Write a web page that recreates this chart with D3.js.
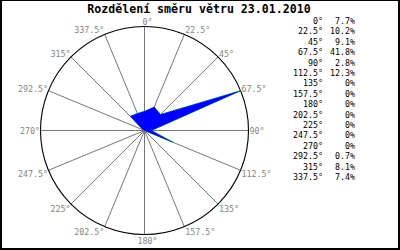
<!DOCTYPE html>
<html><head><meta charset="utf-8">
<script src="https://cdn.jsdelivr.net/npm/d3@7"></script>
<style>
html,body{margin:0;padding:0;background:#fff;}
svg{display:block;}
</style></head>
<body>
<svg id="c" width="400" height="250"></svg>
<script>
const title = "Rozdělení směru větru 23.01.2010";
const directions = [0, 22.5, 45, 67.5, 90, 112.5, 135, 157.5, 180, 202.5, 225, 247.5, 270, 292.5, 315, 337.5];
const percents = [7.7, 10.2, 9.1, 41.8, 2.8, 12.3, 0, 0, 0, 0, 0, 0, 0, 0.7, 8.1, 7.4];

const svg = d3.select("#c");
const W = 400, H = 250;
const cx = 144.5, cy = 130.5, R = 104;
const mono = "'DejaVu Sans Mono', monospace";

svg.append("rect").attr("x",0).attr("y",0).attr("width",W).attr("height",H).attr("fill","#fff");

const rScale = d3.scaleLinear().domain([0, d3.max(percents)]).range([0, R]);
const rad = d => d * Math.PI / 180;
const fmtDeg = d => d3.format("")(d) + "°";
const fmtPct = v => v === 0 ? "0%" : v.toFixed(1) + "%";

const g = svg.append("g").attr("transform", `translate(${cx},${cy})`);

// spokes
g.selectAll("line.spoke").data(directions).join("line")
  .attr("class","spoke")
  .attr("x1",0).attr("y1",0)
  .attr("x2", d => R*Math.sin(rad(d)))
  .attr("y2", d => -R*Math.cos(rad(d)))
  .attr("stroke","#777").attr("stroke-width",1);

// circle
g.append("circle").attr("r",R).attr("fill","none").attr("stroke","#000").attr("stroke-width",1.1);

// data polygon
const radial = d3.lineRadial()
  .angle((v,i) => rad(directions[i]))
  .radius(v => rScale(v))
  .curve(d3.curveLinearClosed);
g.append("path").attr("d", radial(percents))
  .attr("fill","none").attr("stroke","#00e000").attr("stroke-width",0.9);
g.append("path").attr("d", radial(percents))
  .attr("fill","#0000ff").attr("stroke","#0000ff").attr("stroke-width",0.3);

// angle labels
g.selectAll("text.lab").data(directions).join("text")
  .attr("class","lab")
  .attr("font-family",mono).attr("font-size","8.3px").attr("fill","#858585")
  .attr("text-anchor", d => { const s=Math.sin(rad(d)); return s>0.01?"start":(s<-0.01?"end":"middle"); })
  .attr("x", d => { const s=Math.sin(rad(d)); const ex=R*Math.sin(rad(d)); return s>0.01? ex+1 : (s<-0.01? ex-0.5 : ex+3); })
  .attr("y", d => { const c=Math.cos(rad(d)); const ey=-R*c; const dy = c>0 ? -4.5*c : 6*Math.sqrt(-c); return ey+dy+3; })
  .text(fmtDeg);

// title
svg.append("text").attr("x",199).attr("y",13)
  .attr("text-anchor","middle").attr("font-family",mono).attr("font-weight","bold")
  .attr("font-size","11.6px").attr("fill","#000").text(title);

// legend
const ly = d3.scaleLinear().domain([0, directions.length-1]).range([21, 177]);
const leg = svg.append("g").attr("font-family",mono).attr("font-size","8.3px").attr("fill","#000");
leg.selectAll("text.ang").data(directions).join("text").attr("class","ang")
  .attr("x",323).attr("y",(d,i)=>ly(i)+3).attr("text-anchor","end").text(fmtDeg);
leg.selectAll("text.pct").data(percents).join("text").attr("class","pct")
  .attr("x",355).attr("y",(d,i)=>ly(i)+3).attr("text-anchor","end").text(fmtPct);

// frame
svg.append("rect").attr("x",0.5).attr("y",0.5).attr("width",W-1).attr("height",H-1)
  .attr("fill","none").attr("stroke","#000").attr("stroke-width",1);
svg.append("line").attr("x1",1.5).attr("y1",0).attr("x2",1.5).attr("y2",H).attr("stroke","#000");
svg.append("line").attr("x1",W-1.5).attr("y1",0).attr("x2",W-1.5).attr("y2",H).attr("stroke","#000");
svg.append("line").attr("x1",0).attr("y1",H-1.5).attr("x2",W).attr("y2",H-1.5).attr("stroke","#000");
</script>
</body></html>
